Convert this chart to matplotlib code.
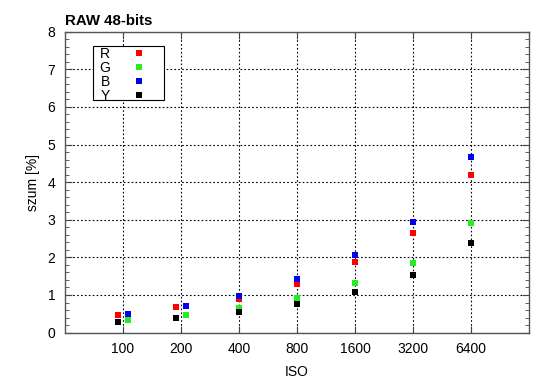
import numpy as np
import matplotlib
matplotlib.use("Agg")
import matplotlib.pyplot as plt
from matplotlib.ticker import MultipleLocator
from matplotlib.patches import Rectangle

plt.rcParams['font.family'] = ['Liberation Sans', 'DejaVu Sans']

# data
iso = ["100", "200", "400", "800", "1600", "3200", "6400"]
szum_R = [0.46, 0.67, 0.88, 1.30, 1.88, 2.66, 4.19]
szum_G = [0.33, 0.48, 0.66, 0.91, 1.33, 1.86, 2.91]
szum_B = [0.50, 0.72, 0.97, 1.42, 2.06, 2.95, 4.66]
szum_Y = [0.28, 0.39, 0.54, 0.76, 1.09, 1.53, 2.37]

# small sideways shift of the points at the low ISO values
shift_left = np.array([-0.08, -0.08, 0, 0, 0, 0, 0])
shift_right = np.array([0.08, 0.08, 0, 0, 0, 0, 0])

x = np.arange(1, len(iso) + 1)

fig = plt.figure(figsize=(5.5, 3.89), dpi=100)
ax = fig.add_axes([0.118, 0.145, 0.844, 0.7735])

ms = 4.3
ax.plot(x + shift_left, szum_R, 's', color='#ff0000', ms=ms, mew=0, label='R')
ax.plot(x + shift_right, szum_G, 's', color='#22ee22', ms=ms, mew=0, label='G')
ax.plot(x + shift_right, szum_B, 's', color='#0000ee', ms=ms, mew=0, label='B')
ax.plot(x + shift_left, szum_Y, 's', color='#000000', ms=ms, mew=0, label='Y')

ax.set_xlim(0, 8)
ax.set_ylim(0, 8)
ax.set_xticks(x)
ax.set_xticklabels(iso)
ax.yaxis.set_major_locator(MultipleLocator(1))
ax.yaxis.set_minor_locator(MultipleLocator(0.2))
ax.tick_params(which='both', direction='in', top=True, right=True,
               labelsize=10, color='#444444')
ax.tick_params(which='major', length=5, pad=7)
ax.tick_params(which='minor', length=3)
ax.tick_params(axis='x', which='minor', bottom=False, top=False)

ax.grid(True, which='major', linestyle=(0, (1.5, 2)), color='black', linewidth=0.8)
for s in ax.spines.values():
    s.set_color('#555555')
    s.set_linewidth(1.0)

ax.set_xlabel('ISO', fontsize=10, labelpad=6)
ax.set_ylabel('szum [%]', fontsize=10, labelpad=5)
ax.set_title('RAW 48-bits', fontsize=10.8, fontweight='bold', loc='left', pad=5, x=0.0)

# legend without its own frame, box drawn separately (gnuplot style key)
leg = ax.legend(loc='upper left', bbox_to_anchor=(0.073, 0.95), markerfirst=False,
                frameon=False, fontsize=10,
                handletextpad=0.5, labelspacing=0.0, borderpad=0.0,
                handlelength=3.2, borderaxespad=0)
leg.set_zorder(5)
ax.add_patch(Rectangle((0.060, 0.773), 0.153, 0.179, transform=ax.transAxes,
                       facecolor='white', edgecolor='black', linewidth=0.8,
                       zorder=4))

fig.savefig('out.png', dpi=100)
